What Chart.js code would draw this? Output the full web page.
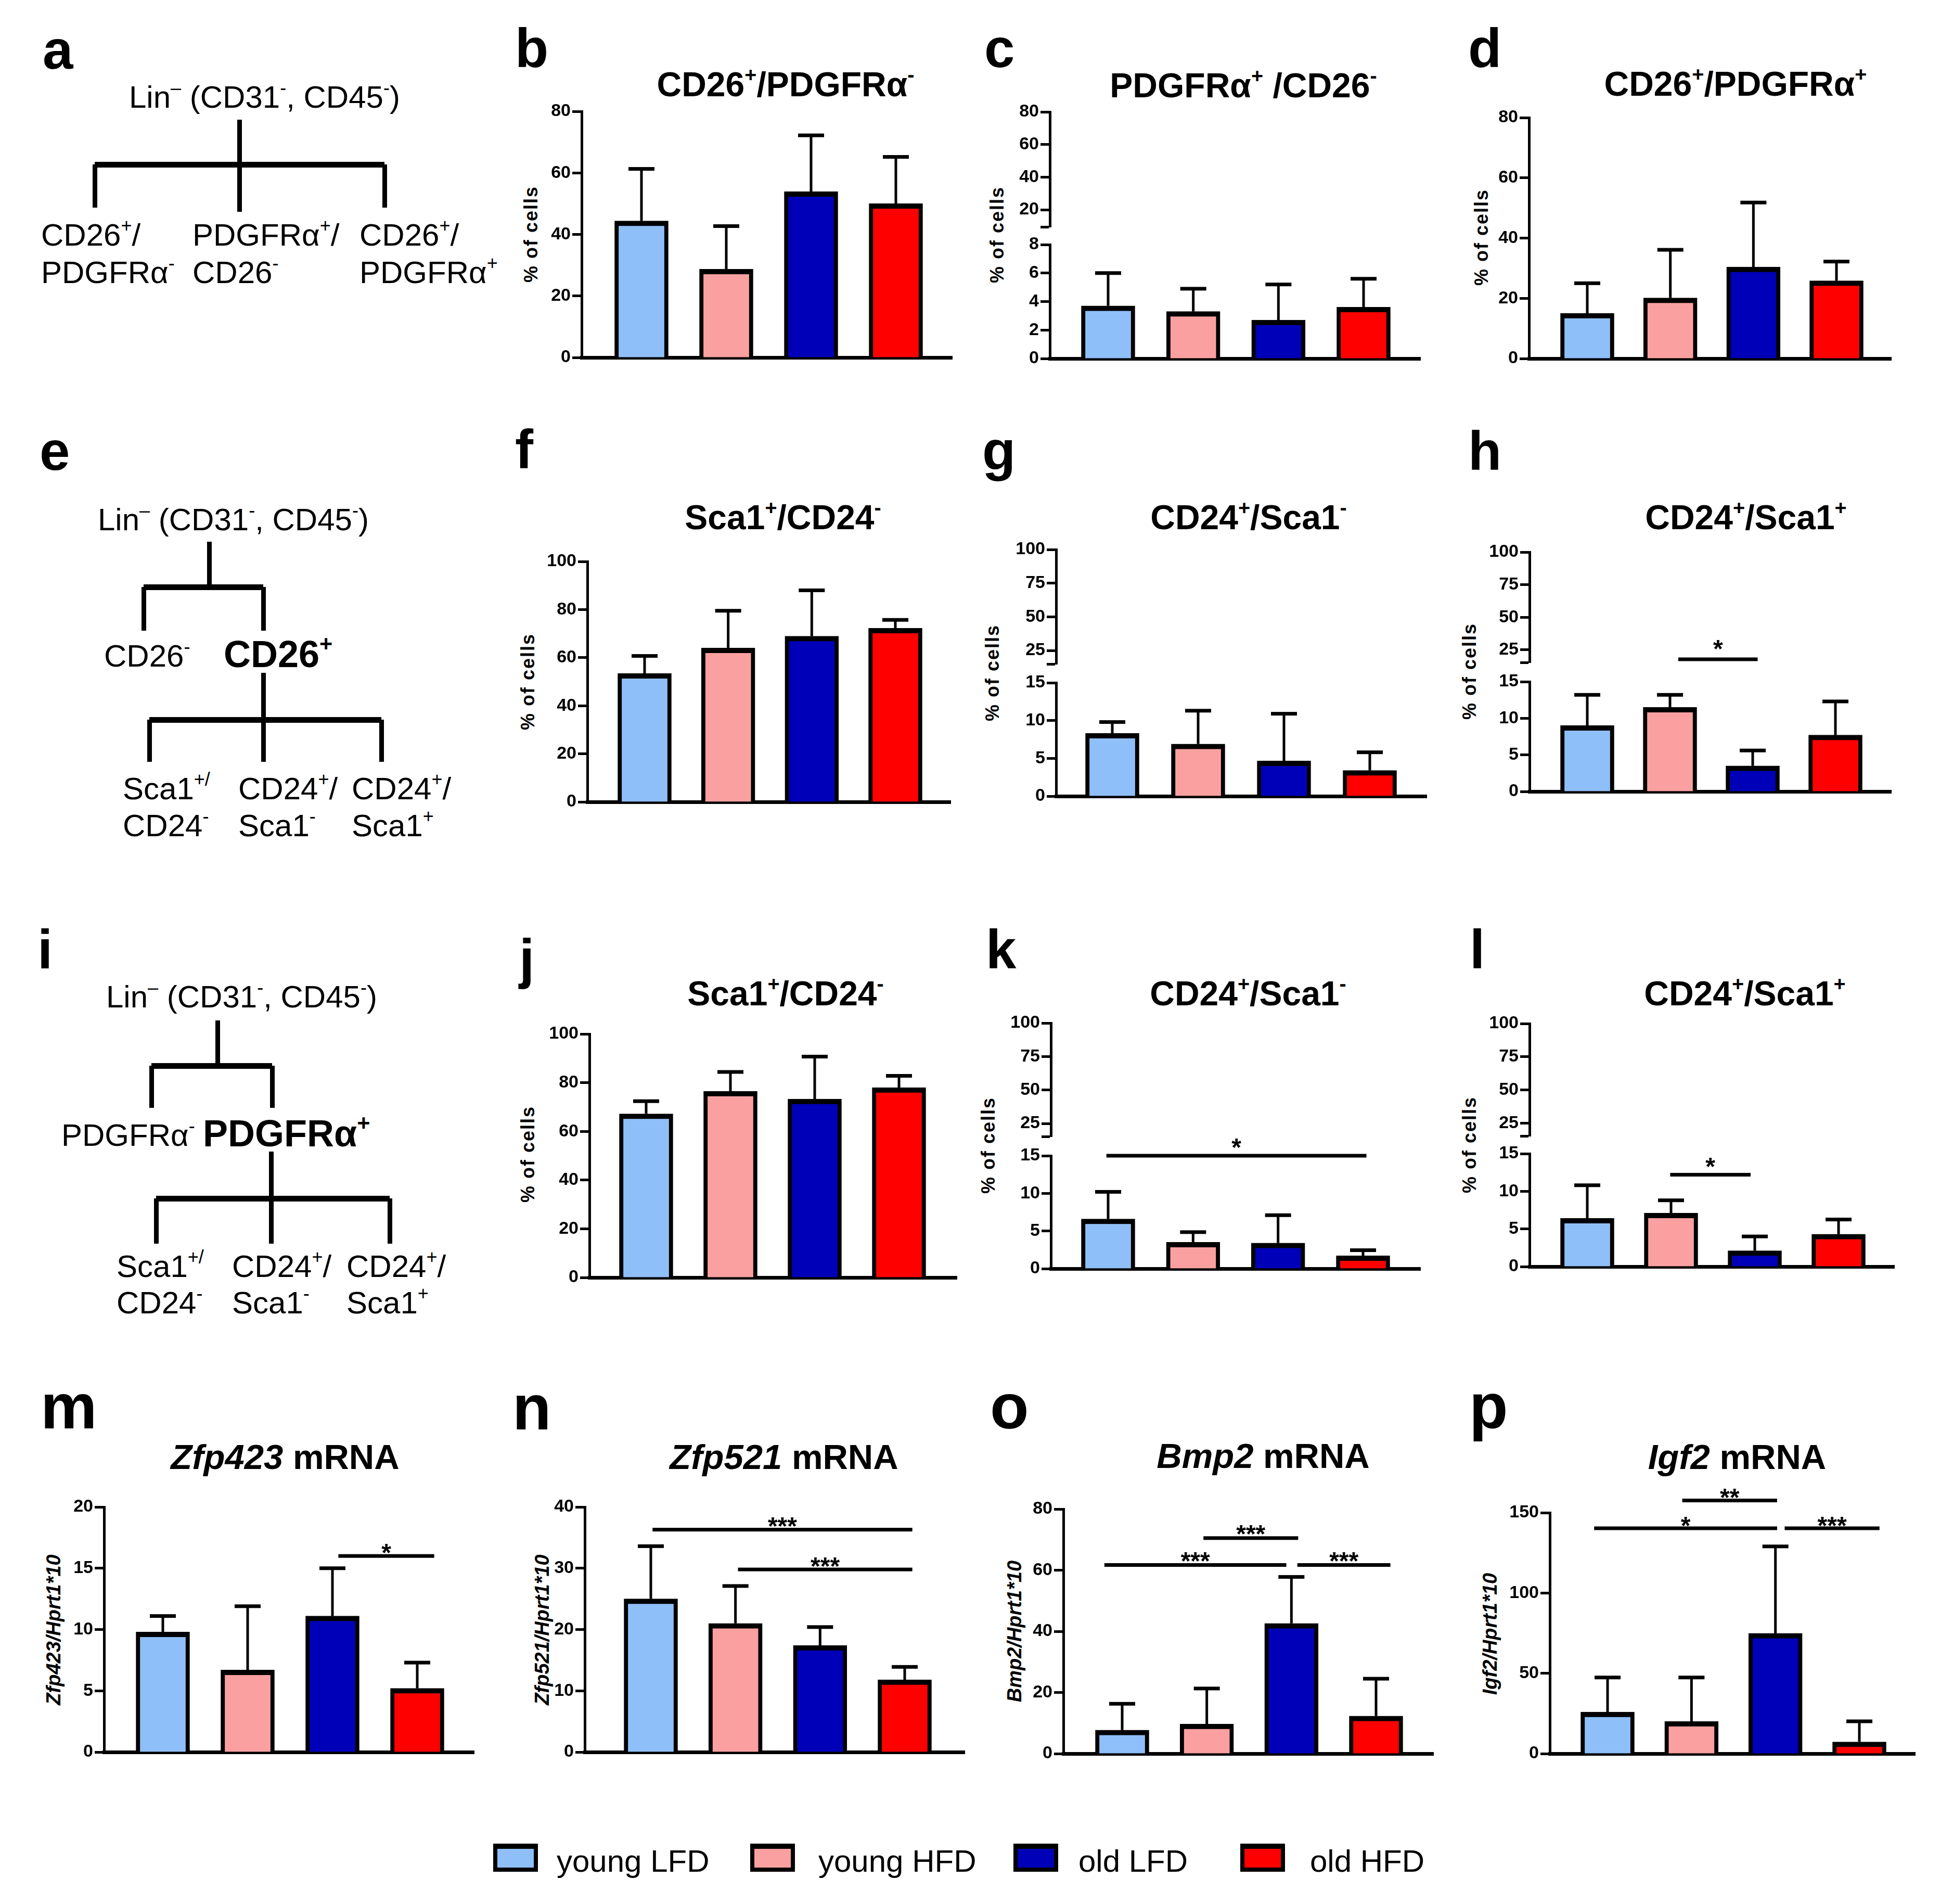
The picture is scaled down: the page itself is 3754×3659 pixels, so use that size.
<!DOCTYPE html>
<html>
<head>
<meta charset="utf-8">
<script src="https://cdn.jsdelivr.net/npm/chart.js@4.4.1/dist/chart.umd.min.js"></script>
<style>
  html, body { margin: 0; padding: 0; background: #fff; }
  #fig { position: relative; width: 3754px; height: 3659px; overflow: hidden;
         font-family: "Liberation Sans", Arial, sans-serif; color: #000; }
  .t { position: absolute; white-space: nowrap; line-height: 1; }
  .ln { position: absolute; background: #000; }
  canvas { position: absolute; }
  sup { font-size: 0.6em; vertical-align: baseline; position: relative; top: -0.72em; }
</style>
</head>
<body>
<div id="fig"></div>
<script>
// groups (same four in every panel)
const groups = ["young LFD", "young HFD", "old LFD", "old HFD"];
const groupColors = ["#8fbff8", "#fba0a0", "#0000b8", "#ff0000"];

// b  CD26+/PDGFRa-
const bMeans = [44.4, 28.7, 53.9, 50.0];
const bErr = [61.3, 42.7, 72.2, 65.2];
const bTicks = [0, 20, 40, 60, 80];
// c  PDGFRa+/CD26-  (broken axis)
const cMeans = [3.7, 3.3, 2.7, 3.6];
const cErr = [6.0, 4.9, 5.2, 5.6];
const cTicksLow = [0, 2, 4, 6, 8];
const cTicksHigh = [20, 40, 60, 80];
// d  CD26+/PDGFRa+
const dMeans = [15.0, 20.1, 30.4, 25.8];
const dErr = [25.0, 36.1, 51.8, 32.2];
const dTicks = [0, 20, 40, 60, 80];
// f  Sca1+/CD24- (CD26+)
const fMeans = [53.4, 64.0, 68.9, 72.2];
const fErr = [60.7, 79.5, 88.0, 75.7];
const pctTicks = [0, 20, 40, 60, 80, 100];
// g  CD24+/Sca1- (CD26+)
const gMeans = [8.3, 6.9, 4.65, 3.4];
const gErr = [9.8, 11.3, 10.9, 5.8];
const lowTicks = [0, 5, 10, 15];
const highTicks = [25, 50, 75, 100];
// h  CD24+/Sca1+ (CD26+)
const hMeans = [9.0, 11.5, 3.5, 7.7];
const hErr = [13.2, 13.2, 5.6, 12.3];
const hSig = [[1, 2, 17.8, "*"]];
// j  Sca1+/CD24- (PDGFRa+)
const jMeans = [67.2, 76.5, 73.3, 78.0];
const jErr = [72.4, 84.4, 90.7, 82.8];
// k  CD24+/Sca1- (PDGFRa+)
const kMeans = [6.6, 3.5, 3.4, 1.7];
const kErr = [10.2, 4.85, 7.1, 2.45];
const kSig = [[0, 3, 15, "*"]];
// l  CD24+/Sca1+ (PDGFRa+)
const lMeans = [6.4, 7.1, 2.1, 4.3];
const lErr = [10.8, 8.8, 4.0, 6.25];
const lSig = [[1, 2, 12.2, "*"]];
// m  Zfp423 mRNA
const mMeans = [9.8, 6.7, 11.1, 5.2];
const mErr = [11.1, 11.9, 15.0, 7.3];
const mTicks = [0, 5, 10, 15, 20];
const mSig = [[2, 3, 16.0, "*"]];
// n  Zfp521 mRNA
const nMeans = [25.0, 21.0, 17.4, 11.8];
const nErr = [33.6, 27.1, 20.4, 13.9];
const nTicks = [0, 10, 20, 30, 40];
const nSig = [[0, 3, 36.3, "***"], [1, 3, 29.8, "***"]];
// o  Bmp2 mRNA
const oMeans = [7.7, 9.7, 42.6, 12.3];
const oErr = [16.3, 21.3, 57.8, 24.5];
const oTicks = [0, 20, 40, 60, 80];
const oSig = [[0, 2, 61.7, "***"], [1, 2, 70.5, "***"], [2, 3, 61.7, "***"]];
// p  Igf2 mRNA
const pMeans = [25.9, 20.1, 74.9, 7.3];
const pErr = [47.4, 47.4, 129, 20.1];
const pTicks = [0, 50, 100, 150];
const pSig = [[0, 2, 140.3, "*"], [1, 2, 157.6, "**"], [2, 3, 140.3, "***"]];

const FONT = '"Liberation Sans", Arial, sans-serif';
Chart.defaults.font.family = FONT;
Chart.defaults.color = "#000";

const fig = document.getElementById("fig");
const YW = 110, PT = 110, PB = 40, PR = 20;

function txt(html, x, base, size, css) {
  const d = document.createElement("div");
  d.className = "t";
  d.innerHTML = html;
  d.style.fontSize = size + "px";
  d.style.left = x + "px";
  d.style.top = (base - 0.8465 * size) + "px";
  if (css) Object.assign(d.style, css);
  fig.appendChild(d);
  return d;
}

function ytitle(html, cx, cy, size, italic) {
  const d = document.createElement("div");
  d.className = "t";
  d.innerHTML = html;
  d.style.fontSize = size + "px";
  d.style.fontWeight = "bold";
  d.style.letterSpacing = italic ? "0px" : "2px";
  if (italic) d.style.fontStyle = "italic";
  d.style.left = cx + "px";
  d.style.top = cy + "px";
  d.style.transform = "translate(-50%, -50%) rotate(-90deg)";
  fig.appendChild(d);
}

function line(x1, y1, x2, y2, w) {
  const d = document.createElement("div");
  d.className = "ln";
  if (x1 === x2) {
    d.style.left = (x1 - w / 2) + "px"; d.style.top = y1 + "px";
    d.style.width = w + "px"; d.style.height = (y2 - y1) + "px";
  } else {
    d.style.left = x1 + "px"; d.style.top = (y1 - w / 2) + "px";
    d.style.width = (x2 - x1) + "px"; d.style.height = w + "px";
  }
  fig.appendChild(d);
}

// error whiskers + significance bars, drawn from the chart's own scales
function overlay(seg) {
  return {
    id: "overlay",
    afterDatasetsDraw(chart) {
      const ctx = chart.ctx;
      const x = chart.scales.x, y = chart.scales.y;
      ctx.save();
      ctx.fillStyle = "#000";
      if (seg.errs) {
        const bars = chart.getDatasetMeta(0).data;
        seg.errs.forEach((e, i) => {
          const cx = bars[i].x, top = y.getPixelForValue(e);
          ctx.fillRect(cx - 2.5, top, 5, bars[i].y - top);
          ctx.fillRect(cx - 25, top - 3.5, 50, 7);
        });
      }
      (seg.sig || []).forEach(([a, b, v, label], k) => {
        const sh = seg.shift[k];
        const x1 = x.getPixelForValue(a + sh[0]);
        const x2 = x.getPixelForValue(b + sh[1]);
        const py = y.getPixelForValue(v);
        ctx.fillRect(x1, py - 3.5, x2 - x1, 7);
        ctx.font = "bold 48px " + FONT;
        ctx.textAlign = "center";
        ctx.textBaseline = "alphabetic";
        ctx.fillText(label, (x1 + x2) / 2, py - seg.gap + 0.43 * 48);
      });
      ctx.restore();
    }
  };
}

function makeChart(L, seg) {
  const sp = (L.c3 - L.c0) / 3;
  const xMin = -(L.c0 - L.ax) / sp, xMax = 3 + (L.ae - L.c3) / sp;
  const w = (L.ae - L.ax) + YW + PR;
  const h = (seg.bottom - seg.top) + PT + PB;
  const cv = document.createElement("canvas");
  cv.width = w; cv.height = h;
  cv.style.left = (L.ax - YW) + "px";
  cv.style.top = (seg.top - PT) + "px";
  cv.style.width = w + "px"; cv.style.height = h + "px";
  fig.appendChild(cv);
  const blank = seg.blank || [];
  const datasets = seg.means ? [{
    data: seg.means.map((v, i) => ({ x: i, y: v })),
    backgroundColor: groupColors,
    borderColor: "#000",
    borderWidth: { top: 10, left: 8, right: 8, bottom: 0 },
    barThickness: 103
  }] : [];
  return new Chart(cv, {
    type: "bar",
    data: { datasets },
    options: {
      responsive: false,
      animation: false,
      devicePixelRatio: 1,
      events: [],
      layout: { padding: { top: PT, bottom: PB, left: 0, right: PR } },
      plugins: { legend: { display: false }, tooltip: { enabled: false } },
      scales: {
        x: {
          type: "linear", min: xMin, max: xMax, offset: false, z: 1,
          ticks: { display: false },
          grid: { display: false },
          border: { display: !!seg.xAxis, width: 7, color: "#000" },
          afterFit: s => { s.height = 0; }
        },
        y: {
          min: seg.min, max: seg.max,
          afterBuildTicks: s => { s.ticks = seg.ticks.map(v => ({ value: v })); },
          afterFit: s => { s.width = YW; },
          ticks: {
            autoSkip: false, padding: 3, color: "#000",
            font: { family: FONT, weight: "bold", size: 34 },
            callback: v => blank.includes(v) ? "" : String(v)
          },
          grid: { display: true, drawOnChartArea: false, drawTicks: true,
                  tickLength: 18, tickWidth: 5, tickColor: "#000", color: "#000" },
          border: { display: true, width: 5, color: "#000" }
        }
      }
    },
    plugins: [overlay(seg)]
  });
}

// ---------- panel letters ----------
[["a", 82, 132], ["b", 990, 129], ["c", 1892, 129], ["d", 2822, 129],
 ["e", 76, 903], ["f", 990, 900], ["g", 1888, 903], ["h", 2822, 903],
 ["i", 72, 1861], ["j", 998, 1879], ["k", 1895, 1861], ["l", 2825, 1861]]
  .forEach(([s, x, b]) => txt(s, x, b, 105, { fontWeight: "bold" }));
[["m", 78, 2745], ["n", 985, 2747], ["o", 1903, 2745], ["p", 2824, 2745]]
  .forEach(([s, x, b]) => txt(s, x, b, 122, { fontWeight: "bold" }));

// ---------- chart titles ----------
const ctr = { transform: "translateX(-50%)", fontWeight: "bold" };
[["CD26<sup>+</sup>/PDGFRα<sup>-</sup>", 1510, 185],
 ["PDGFRα<sup>+</sup> /CD26<sup>-</sup>", 2390, 187],
 ["CD26<sup>+</sup>/PDGFRα<sup>+</sup>", 3336, 184],
 ["Sca1<sup>+</sup>/CD24<sup>-</sup>", 1505, 1017],
 ["CD24<sup>+</sup>/Sca1<sup>-</sup>", 2400, 1017],
 ["CD24<sup>+</sup>/Sca1<sup>+</sup>", 3356, 1017],
 ["Sca1<sup>+</sup>/CD24<sup>-</sup>", 1510, 1932],
 ["CD24<sup>+</sup>/Sca1<sup>-</sup>", 2399, 1932],
 ["CD24<sup>+</sup>/Sca1<sup>+</sup>", 3354, 1932]]
  .forEach(([s, x, b]) => txt(s, x, b, 66, ctr));
[["<i>Zfp423</i> mRNA", 548, 2823], ["<i>Zfp521</i> mRNA", 1507, 2823],
 ["<i>Bmp2</i> mRNA", 2428, 2821], ["<i>Igf2</i> mRNA", 3339, 2823]]
  .forEach(([s, x, b]) => txt(s, x, b, 67, ctr));

// ---------- y axis titles ----------
[[1021, 450], [1917, 451], [2848, 456], [1015, 1310], [1908, 1293], [2825, 1290],
 [1015, 2218], [1900, 2201], [2825, 2200]]
  .forEach(([x, y]) => ytitle("% of cells", x, y, 36, false));
ytitle("Zfp423/Hprt1*10", 103, 3132, 38, true);
ytitle("Zfp521/Hprt1*10", 1042, 3132, 38, true);
ytitle("Bmp2/Hprt1*10", 1950, 3135, 38, true);
ytitle("Igf2/Hprt1*10", 2864, 3140, 38, true);

// ---------- gating schematics ----------
const LIN = "Lin<sup>–</sup> (CD31<sup>-</sup>, CD45<sup>-</sup>)";
// a
txt(LIN, 248, 208, 60);
line(460, 230, 460, 316, 9);
line(182, 316, 739, 316, 11);
line(182, 316, 182, 399, 9); line(460, 316, 460, 407, 9); line(739, 316, 739, 399, 9);
[[79, "CD26<sup>+</sup>/", "PDGFRα<sup>-</sup>"],
 [370, "PDGFRα<sup>+</sup>/", "CD26<sup>-</sup>"],
 [691, "CD26<sup>+</sup>/", "PDGFRα<sup>+</sup>"]]
  .forEach(([x, l1, l2]) => { txt(l1, x, 473, 60); txt(l2, x, 545, 60); });
// e
txt(LIN, 188, 1020, 60);
line(402, 1041, 402, 1128, 9);
line(276, 1128, 506, 1128, 11);
line(276, 1128, 276, 1212, 9); line(506, 1128, 506, 1212, 9);
txt("CD26<sup>-</sup>", 200, 1282, 60);
txt("CD26<sup>+</sup>", 430, 1282, 72, { fontWeight: "bold" });
line(506, 1293, 506, 1383, 9);
line(287, 1383, 733, 1383, 11);
line(287, 1383, 287, 1464, 9); line(506, 1383, 506, 1464, 9); line(733, 1383, 733, 1464, 9);
const SUB = [["Sca1<sup>+/</sup>", "CD24<sup>-</sup>"],
             ["CD24<sup>+</sup>/", "Sca1<sup>-</sup>"],
             ["CD24<sup>+</sup>/", "Sca1<sup>+</sup>"]];
[236, 458, 676].forEach((x, i) => { txt(SUB[i][0], x, 1537, 60); txt(SUB[i][1], x, 1608, 60); });
// i
txt(LIN, 204, 1937, 60);
line(418, 1961, 418, 2048, 9);
line(291, 2048, 523, 2048, 11);
line(291, 2048, 291, 2129, 9); line(523, 2048, 523, 2129, 9);
txt("PDGFRα<sup>-</sup>", 118, 2203, 60);
txt("PDGFRα<sup>+</sup>", 390, 2203, 72, { fontWeight: "bold" });
line(521, 2213, 521, 2303, 9);
line(300, 2303, 749, 2303, 11);
line(300, 2303, 300, 2390, 9); line(521, 2303, 521, 2390, 9); line(749, 2303, 749, 2390, 9);
[224, 446, 666].forEach((x, i) => { txt(SUB[i][0], x, 2455, 60); txt(SUB[i][1], x, 2525, 60); });

// ---------- bar panels ----------
const L = {
  b: { ax: 1118, ae: 1830, c0: 1233, c3: 1722 },
  c: { ax: 2018, ae: 2730, c0: 2130, c3: 2621 },
  d: { ax: 2939, ae: 3635, c0: 3051, c3: 3530 },
  f: { ax: 1129, ae: 1827, c0: 1239, c3: 1721 },
  g: { ax: 2030, ae: 2742, c0: 2138, c3: 2633 },
  h: { ax: 2940, ae: 3635, c0: 3051, c3: 3528 },
  j: { ax: 1133, ae: 1839, c0: 1242, c3: 1728 },
  k: { ax: 2020, ae: 2730, c0: 2130, c3: 2620 },
  l: { ax: 2940, ae: 3641, c0: 3051, c3: 3534 },
  m: { ax: 200, ae: 911, c0: 313, c3: 802 },
  n: { ax: 1124, ae: 1854, c0: 1251, c3: 1739 },
  o: { ax: 2044, ae: 2755, c0: 2157, c3: 2645 },
  p: { ax: 2979, ae: 3681, c0: 3090, c3: 3574 }
};

makeChart(L.b, { top: 214, bottom: 687, min: 0, max: 80, ticks: bTicks, means: bMeans, errs: bErr, xAxis: true });
makeChart(L.c, { top: 215, bottom: 436, min: 9.5, max: 80, ticks: [9.5, ...cTicksHigh], blank: [9.5] });
makeChart(L.c, { top: 470, bottom: 689, min: 0, max: 8, ticks: cTicksLow, means: cMeans, errs: cErr, xAxis: true });
makeChart(L.d, { top: 226, bottom: 689, min: 0, max: 80, ticks: dTicks, means: dMeans, errs: dErr, xAxis: true });

makeChart(L.f, { top: 1079, bottom: 1541, min: 0, max: 100, ticks: pctTicks, means: fMeans, errs: fErr, xAxis: true });
makeChart(L.g, { top: 1056, bottom: 1276, min: 15, max: 100, ticks: [15, ...highTicks], blank: [15] });
makeChart(L.g, { top: 1312, bottom: 1530, min: 0, max: 15, ticks: lowTicks, means: gMeans, errs: gErr, xAxis: true });
makeChart(L.h, { top: 1061, bottom: 1273, min: 15.4, max: 100, ticks: [15.4, ...highTicks], blank: [15.4],
                 sig: hSig, shift: [[0.1, 0.06]], gap: 25 });
makeChart(L.h, { top: 1310, bottom: 1521, min: 0, max: 15, ticks: lowTicks, means: hMeans, errs: hErr, xAxis: true });

makeChart(L.j, { top: 1987, bottom: 2455, min: 0, max: 100, ticks: pctTicks, means: jMeans, errs: jErr, xAxis: true });
makeChart(L.k, { top: 1966, bottom: 2184, min: 15.3, max: 100, ticks: [15.3, ...highTicks], blank: [15.3] });
makeChart(L.k, { top: 2221, bottom: 2438, min: 0, max: 15, ticks: lowTicks, means: kMeans, errs: kErr, xAxis: true,
                 sig: kSig, shift: [[-0.02, 0.04]], gap: 21 });
makeChart(L.l, { top: 1967, bottom: 2183, min: 15.6, max: 100, ticks: [15.6, ...highTicks], blank: [15.6] });
makeChart(L.l, { top: 2217, bottom: 2434, min: 0, max: 15, ticks: lowTicks, means: lMeans, errs: lErr, xAxis: true,
                 sig: lSig, shift: [[-0.01, -0.05]], gap: 20 });

makeChart(L.m, { top: 2896, bottom: 3367, min: 0, max: 20, ticks: mTicks, means: mMeans, errs: mErr, xAxis: true,
                 sig: mSig, shift: [[0.07, 0.2]], gap: 11 });
makeChart(L.n, { top: 2896, bottom: 3367, min: 0, max: 40, ticks: nTicks, means: nMeans, errs: nErr, xAxis: true,
                 sig: nSig, shift: [[0.02, 0.09], [0.03, 0.09]], gap: 11 });
makeChart(L.o, { top: 2900, bottom: 3370, min: 0, max: 80, ticks: oTicks, means: oMeans, errs: oErr, xAxis: true,
                 sig: oSig, shift: [[-0.21, -0.06], [-0.04, 0.08], [0.07, 0.17]], gap: 12 });
makeChart(L.p, { top: 2907, bottom: 3370, min: 0, max: 150, ticks: pTicks, means: pMeans, errs: pErr, xAxis: true,
                 sig: pSig, shift: [[-0.16, 0.02], [-0.11, 0.02], [0.11, 0.24]], gap: 10 });

// ---------- shared legend ----------
const legBox = [948, 1442, 1948, 2384];
const legText = [1070, 1573, 2073, 2518];
groups.forEach((g, i) => {
  const b = document.createElement("div");
  b.style.cssText = "position:absolute;box-sizing:border-box;width:86px;height:54px;" +
    "top:3543px;left:" + legBox[i] + "px;background:" + groupColors[i] +
    ";border:8px solid #000;border-top-width:10px;";
  fig.appendChild(b);
  txt(g, legText[i], 3598, 60);
});
</script>
</body>
</html>
